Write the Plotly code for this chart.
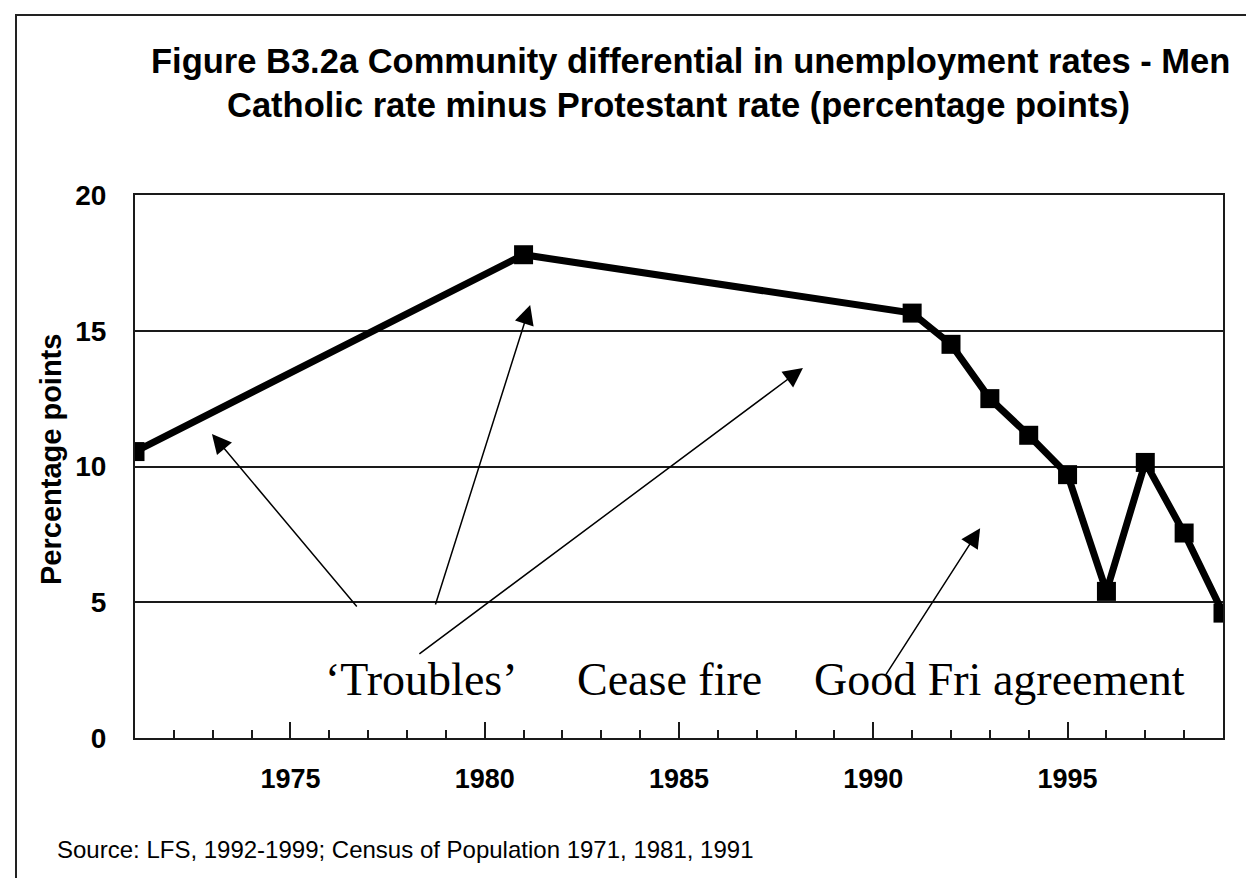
import plotly.graph_objects as go

# ---- data ----
years = [1971, 1981, 1991, 1992, 1993, 1994, 1995, 1996, 1997, 1998, 1999]
differential = [10.55, 17.8, 15.65, 14.5, 12.5, 11.15, 9.7, 5.4, 10.15, 7.55, 4.6]

x_tick_vals = [1975, 1980, 1985, 1990, 1995]
x_tick_text = ["1975", "1980", "1985", "1990", "1995"]
y_tick_vals = [0, 5, 10, 15, 20]
y_tick_text = ["0", "5", "10", "15", "20"]

title_line1 = "Figure B3.2a Community differential in unemployment rates - Men"
title_line2 = "Catholic rate minus Protestant rate (percentage points)"
y_title = "Percentage points"
source_text = "Source: LFS, 1992-1999; Census of Population 1971, 1981, 1991"

label_texts = ["\u2018Troubles\u2019", "Cease fire", "Good Fri agreement"]
label_x = [1975.85, 1982.33, 1988.43]
label_y = [2.14, 2.14, 2.14]

# arrows: (head_x, head_y, tail_x, tail_y) in data units
arrow_head_x = [1972.98, 1981.17, 1988.19, 1992.75]
arrow_head_y = [11.2, 15.95, 13.63, 7.73]
arrow_tail_x = [1976.74, 1978.72, 1978.28, 1990.30]
arrow_tail_y = [4.79, 4.86, 3.06, 2.28]

# ---- layout geometry (pixels) ----
W, H = 1254, 878
L, R, T, B = 127, 1215, 187, 730
PW, PH = R - L, B - T


def px_x(px):
    return (px - L) / PW


def px_y(py):
    return (B - py) / PH


SANS = "Liberation Sans, Arial, sans-serif"
SERIF = "Liberation Serif, Times New Roman, serif"
LINE = "#1a1a1a"

fig = go.Figure()
fig.add_trace(go.Scatter(
    x=years, y=differential, mode="lines+markers",
    line=dict(color="black", width=7),
    marker=dict(symbol="square", size=19, color="black"),
    cliponaxis=True, showlegend=False, hoverinfo="x+y",
))

annotations = []
# title lines
annotations.append(dict(text="<b>" + title_line1 + "</b>", xref="paper", yref="paper",
                        x=px_x(682), y=px_y(53), xanchor="center", yanchor="middle",
                        showarrow=False, font=dict(family=SANS, size=34.5, color="black")))
annotations.append(dict(text="<b>" + title_line2 + "</b>", xref="paper", yref="paper",
                        x=px_x(670), y=px_y(97), xanchor="center", yanchor="middle",
                        showarrow=False, font=dict(family=SANS, size=34.5, color="black")))
# y title
annotations.append(dict(text="<b>" + y_title + "</b>", xref="paper", yref="paper",
                        x=px_x(43), y=px_y(452), xanchor="center", yanchor="middle",
                        textangle=-90, showarrow=False,
                        font=dict(family=SANS, size=29, color="black")))
# source
annotations.append(dict(text=source_text, xref="paper", yref="paper",
                        x=px_x(47), y=px_y(841), xanchor="left", yanchor="middle",
                        showarrow=False, font=dict(family=SANS, size=24, color="black")))
# event labels
for t, lx, ly in zip(label_texts, label_x, label_y):
    annotations.append(dict(text=t, x=lx, y=ly, xref="x", yref="y",
                            xanchor="left", yanchor="middle", showarrow=False,
                            font=dict(family=SERIF, size=46, color="black")))
# arrows
for hx, hy, tx, ty in zip(arrow_head_x, arrow_head_y, arrow_tail_x, arrow_tail_y):
    annotations.append(dict(text="", x=hx, y=hy, ax=tx, ay=ty,
                            xref="x", yref="y", axref="x", ayref="y",
                            showarrow=True, arrowhead=2, arrowsize=2.6,
                            arrowwidth=1.5, arrowcolor="black", standoff=0))

# outer frame (top and left edges visible)
shapes = [dict(type="rect", xref="paper", yref="paper",
               x0=px_x(8), y0=px_y(900), x1=px_x(1270), y1=px_y(7),
               line=dict(color="#222222", width=2), fillcolor="rgba(0,0,0,0)", layer="below")]

fig.update_layout(
    width=W, height=H,
    margin=dict(l=L, r=W - R, t=T, b=H - B, pad=0),
    paper_bgcolor="white", plot_bgcolor="white",
    annotations=annotations, shapes=shapes,
    showlegend=False,
)

fig.update_xaxes(
    range=[1971, 1999], tickmode="array", tickvals=x_tick_vals, ticktext=x_tick_text,
    ticks="inside", ticklen=16, tickwidth=2, tickcolor=LINE,
    minor=dict(dtick=1, tick0=1971, ticks="inside", ticklen=8, tickwidth=2, tickcolor=LINE, showgrid=False),
    showline=True, linecolor=LINE, linewidth=2, mirror=True,
    showgrid=False, zeroline=False,
    tickfont=dict(family=SANS, size=27, color="black", weight="bold"),
    ticklabelstandoff=16,
)
fig.update_yaxes(
    range=[0, 20], tickmode="array", tickvals=y_tick_vals, ticktext=y_tick_text,
    ticks="", showline=True, linecolor=LINE, linewidth=2, mirror=True,
    showgrid=True, gridcolor=LINE, gridwidth=2, zeroline=False,
    tickfont=dict(family=SANS, size=28, color="black", weight="bold"),
    ticklabelstandoff=21,
)

fig.write_html("out.html")
